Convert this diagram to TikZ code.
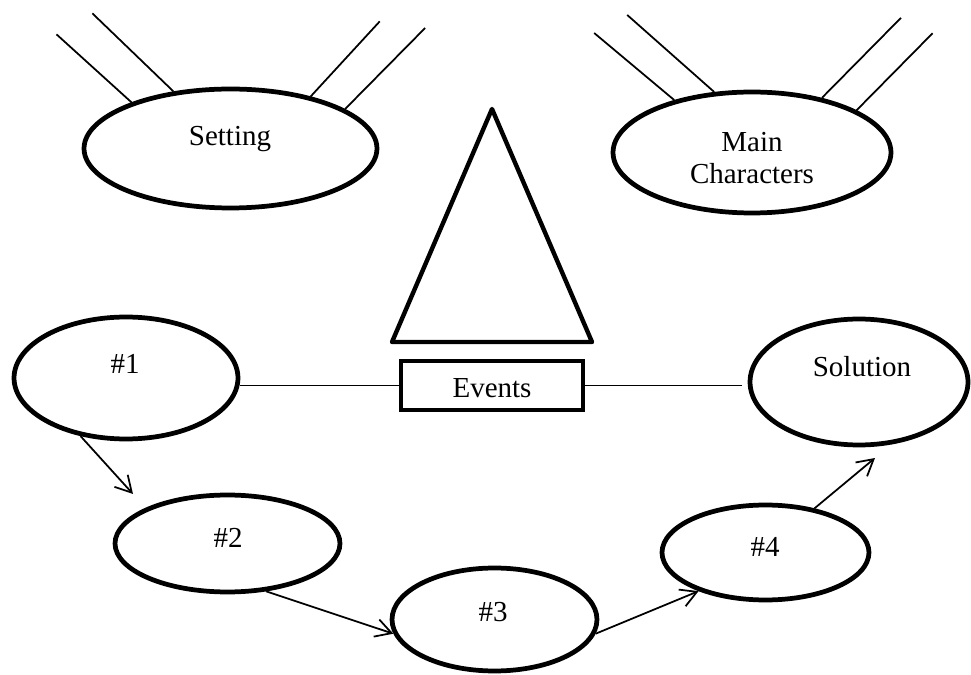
\documentclass[tikz,border=0pt]{standalone}
\usepackage{fontspec}
\setmainfont{Liberation Serif}
\usetikzlibrary{shapes.geometric, arrows.meta}

\begin{document}
\begin{tikzpicture}[
  x=0.02cm, y=-0.02cm,
  font=\fontsize{16.5}{18.7}\selectfont,
  bubble/.style={draw, ellipse, line width=2.7pt, inner sep=0pt},
  tag/.style={anchor=base, inner sep=0pt},
  ray/.style={line width=1pt},
  link/.style={line width=1pt},
  flow/.style={line width=1pt, -{Straight Barb[length=3.2mm, width=3.6mm]}},
]
\useasboundingbox (0,0) rectangle (971,675);
\node[bubble, minimum width=5.86cm, minimum height=2.38cm] (set) at (230.5,148.5) {};
\node[bubble, minimum width=5.56cm, minimum height=2.42cm] (chr) at (752,152.5) {};
\node[bubble, minimum width=4.48cm, minimum height=2.44cm] (n1) at (126,378) {};
\node[bubble, minimum width=4.50cm, minimum height=1.94cm] (n2) at (227.5,543.5) {};
\node[bubble, minimum width=4.10cm, minimum height=2.06cm] (n3) at (494.5,619.5) {};
\node[bubble, minimum width=4.14cm, minimum height=1.90cm] (n4) at (765.5,552.5) {};
\node[bubble, minimum width=4.36cm, minimum height=2.52cm] (sol) at (859,382) {};
\node[draw, line width=2.5pt, minimum width=3.64cm, minimum height=0.98cm, inner sep=0pt] (ev) at (492,385.5) {};
\draw[line width=2.5pt, line join=round] (492,109) -- (592,342) -- (392,342) -- cycle;
\node[tag] (tset) at (230,146) {Setting};
\node[align=center, inner sep=0pt] (tchr) at (752,158) {Main\\Characters};
\node[tag] (t1) at (125,374) {\#1};
\node[tag] (t2) at (228,548) {\#2};
\node[tag] (t3) at (493,622) {\#3};
\node[tag] (t4) at (765,557) {\#4};
\node[tag] (tsol) at (862,377) {Solution};
\node[tag] (tev) at (492,398) {Events};
\draw[ray] (set.155) -- ++(-75,-68);
\draw[ray] (set.135) -- ++(-81,-78);
\draw[ray] (set.33) -- ++(69,-75);
\draw[ray] (set.19) -- ++(80,-81);
\draw[ray] (chr.146) -- ++(-80,-67);
\draw[ray] (chr.122) -- ++(-87,-77);
\draw[ray] (chr.38) -- ++(79,-80);
\draw[ray] (chr.22) -- ++(76,-77);
\draw[link] (ev.west -| n1.east) -- (ev.west);
\draw[link, shorten >=3pt] (ev.east) -- (ev.east -| sol.west);
\coordinate (a2) at (133,494);
\coordinate (a5) at (875,458);
\draw[flow] (n1.232) -- (a2);
\draw[flow] (n2.-51) -- (n3.188);
\draw[flow] (n3.-8) -- (n4.210);
\draw[flow] (n4.42) -- (a5);
\end{tikzpicture}
\end{document}
